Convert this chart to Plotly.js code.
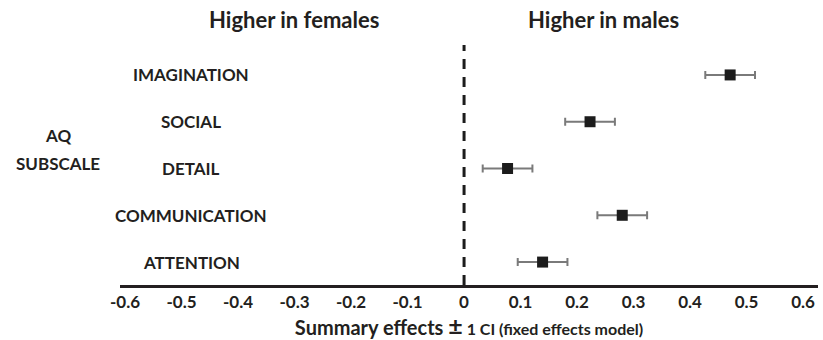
<!DOCTYPE html>
<html>
<head>
<meta charset="utf-8">
<script src="https://cdn.plot.ly/plotly-3.0.1.min.js"></script>
<style>html,body{margin:0;padding:0;background:#fff;}#chart{width:823px;height:340px;}</style>
</head>
<body>
<div id="chart"></div>
<script>
// Data (bottom to top)
var subscales = ["ATTENTION", "COMMUNICATION", "DETAIL", "SOCIAL", "IMAGINATION"];
var effects   = [0.139, 0.280, 0.077, 0.223, 0.471];
var ciHalf    = [0.044, 0.044, 0.044, 0.044, 0.044];
var tickVals  = [-0.6, -0.5, -0.4, -0.3, -0.2, -0.1, 0, 0.1, 0.2, 0.3, 0.4, 0.5, 0.6];
var tickText  = ["-0.6", "-0.5", "-0.4", "-0.3", "-0.2", "-0.1", "0", "0.1", "0.2", "0.3", "0.4", "0.5", "0.6"];

var FONT = "Lato, 'Open Sans', sans-serif";
var INK = "#231f20";

var trace = {
  type: "scatter",
  mode: "markers",
  x: effects,
  y: subscales,
  error_x: {type: "data", array: ciHalf, visible: true, color: "#7a7a7a", thickness: 2, width: 4},
  marker: {symbol: "square", size: 11, color: "#1c1c1c"},
  hoverinfo: "x+y",
  showlegend: false
};

var annotations = subscales.map(function (s) {
  return {xref: "paper", yref: "y", x: 0.102, y: s, text: "<b>" + s + "</b>", showarrow: false,
          xanchor: "center", yanchor: "middle", font: {family: FONT, size: 17, color: INK}};
});
annotations.push({xref: "paper", yref: "paper", x: -0.0895, y: 0.625, text: "<b>AQ</b>", showarrow: false,
  xanchor: "center", yanchor: "middle", font: {family: FONT, size: 17, color: INK}});
annotations.push({xref: "paper", yref: "paper", x: -0.0895, y: 0.508, text: "<b>SUBSCALE</b>", showarrow: false,
  xanchor: "center", yanchor: "middle", font: {family: FONT, size: 17, color: INK}});
annotations.push({xref: "x", yref: "paper", x: -0.301, y: 1.0, yshift: 26, text: "<b>Higher in females</b>", showarrow: false,
  xanchor: "center", yanchor: "middle", font: {family: FONT, size: 22, color: INK}});
annotations.push({xref: "x", yref: "paper", x: 0.246, y: 1.0, yshift: 26, text: "<b>Higher in males</b>", showarrow: false,
  xanchor: "center", yanchor: "middle", font: {family: FONT, size: 22, color: INK}});

var layout = {
  width: 823, height: 340,
  margin: {l: 120, r: 5, t: 45, b: 55},
  paper_bgcolor: "#fff", plot_bgcolor: "#fff",
  font: {family: FONT, color: INK},
  xaxis: {
    range: [-0.609, 0.6265],
    tickvals: tickVals, ticktext: tickText,
    tickfont: {family: FONT, size: 17, color: INK, weight: "bold"},
    showgrid: false, zeroline: false,
    showline: true, linecolor: "#231f20", linewidth: 2.5,
    ticks: "", ticklen: 0,
    title: {text: "<b>Summary effects </b><b><span style='font-size:25px'>±</span></b><b><span style='font-size:16px'> 1 CI (fixed effects model)</span></b>",
            font: {family: FONT, size: 20, color: INK}, standoff: 5}
  },
  yaxis: {
    type: "category",
    categoryorder: "array", categoryarray: subscales,
    range: [-0.49, 4.64],
    showticklabels: false, showgrid: false, zeroline: false, showline: false, ticks: ""
  },
  shapes: [{type: "line", xref: "x", yref: "paper", x0: 0, x1: 0, y0: 0, y1: 1,
            line: {color: "#1c1c1c", width: 3, dash: "10px,8px"}}],
  annotations: annotations
};

Plotly.newPlot("chart", [trace], layout, {displayModeBar: false, staticPlot: true});
</script>
</body>
</html>
